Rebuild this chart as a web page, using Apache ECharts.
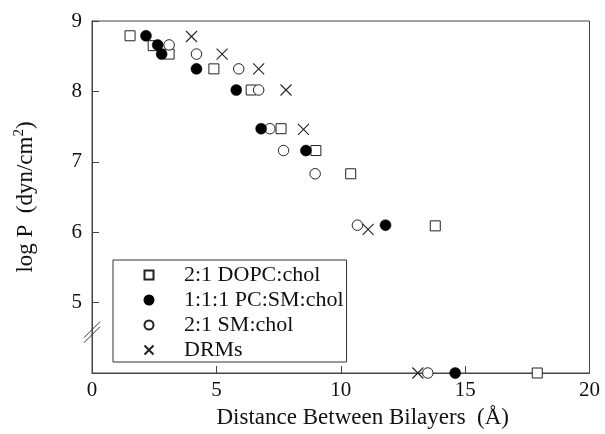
<!DOCTYPE html>
<html><head><meta charset="utf-8">
<script src="https://cdn.jsdelivr.net/npm/echarts@6/dist/echarts.min.js"></script>
<style>html,body{margin:0;padding:0;background:#fff}#c{width:605px;height:434px}</style>
</head><body><div id="c"></div>
<script>
const seriesNames = ['2:1 DOPC:chol', '1:1:1 PC:SM:chol', '2:1 SM:chol', 'DRMs'];
const dopcChol = [[1.53,8.79],[2.46,8.65],[3.1,8.53],[4.9,8.32],[6.4,8.02],[7.6,7.47],[9.0,7.16],[10.4,6.83],[13.8,6.09],[17.9,4]];
const pcSmChol = [[2.17,8.79],[2.64,8.66],[2.8,8.53],[4.2,8.32],[5.8,8.02],[6.8,7.47],[8.6,7.16],[11.8,6.1],[14.6,4]];
const smChol = [[3.1,8.66],[4.2,8.53],[5.9,8.32],[6.7,8.02],[7.15,7.47],[7.7,7.16],[8.97,6.83],[10.67,6.1],[13.5,4]];
const drms = [[4.0,8.78],[5.23,8.53],[6.7,8.32],[7.8,8.02],[8.5,7.46],[11.1,6.04],[13.1,4]];
const xRange = [0, 20, 5];
const yRange = [4, 9, 1];
const hiddenYLabel = 4;
const xTitle = 'Distance Between Bilayers  (Å)';
const yTitle = 'log P  (dyn/cm{sup|2})';

const FONT = 'Liberation Serif';
const INK = '#111';
const chart = echarts.init(document.getElementById('c'));
const xPath = 'path://M0,0L10,10M10,0L0,10';
const sqPath = 'path://M0,0H10V10H0Z';

chart.setOption({
  animation: false,
  backgroundColor: '#fff',
  grid: { left: 92, right: 15.5, top: 21, bottom: 60, show: true, borderColor: '#444', borderWidth: 1, backgroundColor: 'transparent' },
  xAxis: {
    type: 'value', min: xRange[0], max: xRange[1], interval: xRange[2],
    axisLine: { show: true, lineStyle: { color: '#444', width: 1 } },
    axisTick: { show: true, inside: true, length: 7, lineStyle: { color: '#444' } },
    splitLine: { show: false },
    axisLabel: { color: INK, fontFamily: FONT, fontSize: 21, margin: 7 },
    name: xTitle, nameLocation: 'middle', nameGap: 33,
    nameTextStyle: { color: INK, fontFamily: FONT, fontSize: 23, padding: [0, 0, 0, 44] }
  },
  yAxis: {
    type: 'value', min: yRange[0], max: yRange[1], interval: yRange[2],
    axisLine: { show: true, lineStyle: { color: '#444', width: 1 } },
    axisTick: { show: true, inside: true, length: 7, lineStyle: { color: '#444' } },
    splitLine: { show: false },
    axisLabel: { color: INK, fontFamily: FONT, fontSize: 21, margin: 10,
      formatter: v => (v === hiddenYLabel ? '' : String(v)) },
    name: yTitle, nameLocation: 'middle', nameGap: 52,
    nameTextStyle: { color: INK, fontFamily: FONT, fontSize: 23, lineHeight: 28,
      rich: { sup: { fontFamily: FONT, fontSize: 15, color: INK, verticalAlign: 'top', lineHeight: 28, padding: [0, 0, 12, 0] } } }
  },
  legend: {
    orient: 'vertical', left: 113, top: 260,
    padding: [4, 3, 1, 29],
    itemWidth: 10, itemHeight: 9, itemGap: 3,
    borderColor: '#333', borderWidth: 1, backgroundColor: '#fff',
    textStyle: { color: INK, fontFamily: FONT, fontSize: 22, lineHeight: 21, padding: [0, 0, 0, 25] },
    data: seriesNames
  },
  series: [
    { name: seriesNames[0], type: 'scatter', data: dopcChol, symbol: sqPath, symbolSize: 10, symbolKeepAspect: true, z: 3,
      itemStyle: { color: '#fff', borderColor: '#222', borderWidth: 1, opacity: 1 } },
    { name: seriesNames[1], type: 'scatter', data: pcSmChol, symbol: 'circle', symbolSize: 11, z: 4,
      itemStyle: { color: '#000', borderColor: '#000', borderWidth: 0.5, opacity: 1 } },
    { name: seriesNames[2], type: 'scatter', data: smChol, symbol: 'circle', symbolSize: 10.5, z: 3,
      itemStyle: { color: '#fff', borderColor: '#222', borderWidth: 1, opacity: 1 } },
    { name: seriesNames[3], type: 'scatter', data: drms, symbol: xPath, symbolSize: 11, symbolKeepAspect: true, z: 5,
      itemStyle: { color: 'none', borderColor: '#222', borderWidth: 1.1, opacity: 1 } }
  ]
});

// axis-break marks on the y axis, placed through the chart's own scale
const c = chart.convertToPixel({ gridIndex: 0 }, [xRange[0], 4.58]);
const brk = (dy) => ({
  type: 'line', z: 10,
  shape: { x1: c[0] - 8, y1: c[1] + dy + 8, x2: c[0] + 8, y2: c[1] + dy - 8 },
  style: { stroke: '#333', lineWidth: 1 }
});
chart.setOption({ graphic: [brk(2.5), brk(-2.5)] });
</script></body></html>
